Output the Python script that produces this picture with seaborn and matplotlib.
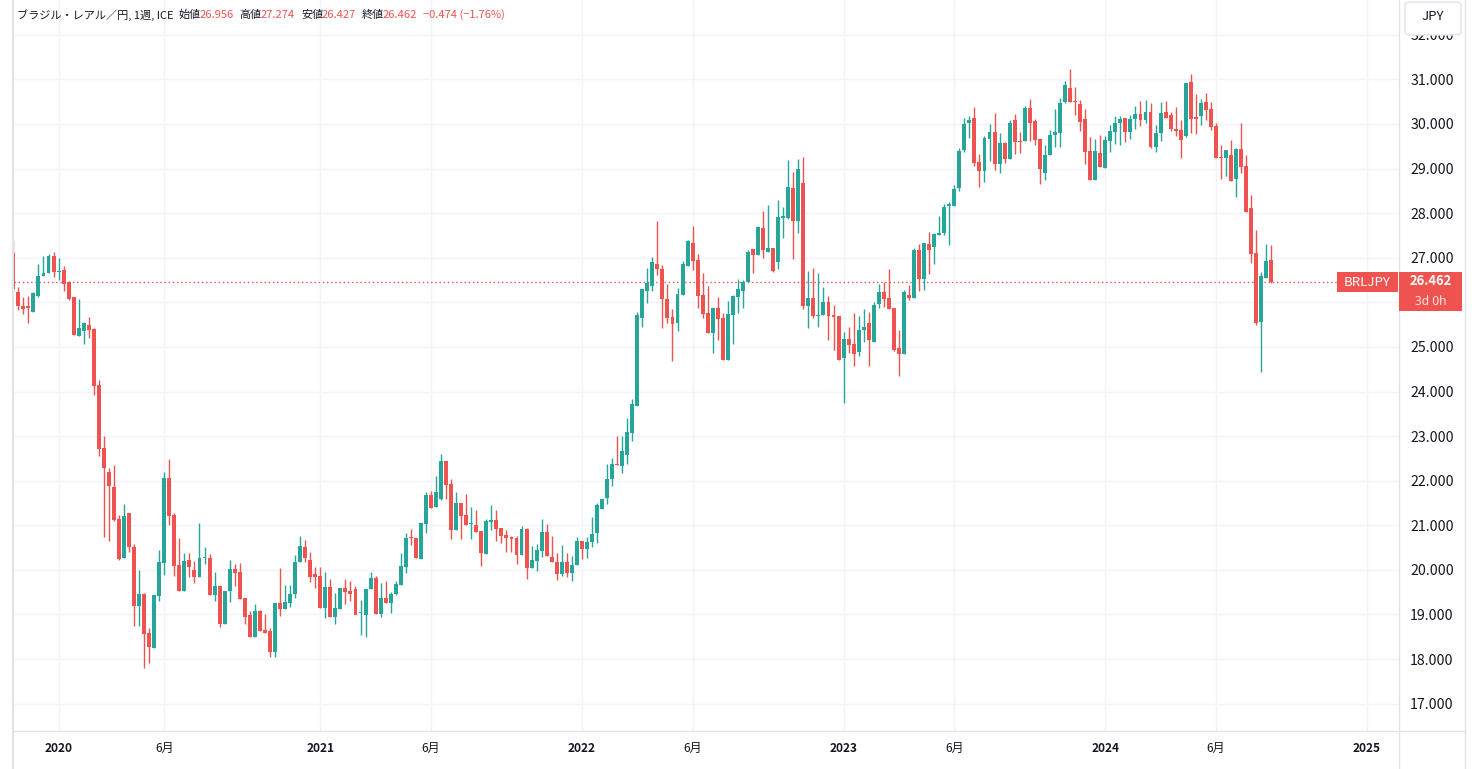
import matplotlib
matplotlib.use("Agg")
import matplotlib.pyplot as plt
import seaborn as sns
import numpy as np
from matplotlib.patches import Rectangle, FancyBboxPatch
from matplotlib.lines import Line2D

# ---------------- data (weekly BRL/JPY candles) ----------------
opens = [27.10, 26.23, 25.91, 25.91, 25.79, 26.15, 26.60, 26.65, 27.04, 26.68,
         26.72, 26.45, 26.11, 25.25, 25.36, 25.49, 25.40, 24.15, 22.73, 22.20,
         21.86, 21.14, 20.26, 21.27, 20.51, 19.19, 19.46, 18.59, 18.26, 19.42,
         20.16, 22.06, 21.23, 20.11, 19.53, 20.22, 20.00, 19.85, 20.27, 20.27,
         19.44, 19.64, 18.79, 19.53, 20.02, 19.95, 19.37, 18.99, 18.50, 19.07,
         18.65, 18.63, 18.15, 19.26, 19.13, 19.26, 19.45, 20.17, 20.52, 20.22,
         19.91, 19.86, 19.15, 19.62, 18.95, 19.13, 19.59, 19.53, 19.57, 19.03,
         19.00, 19.57, 19.82, 19.02, 19.37, 19.26, 19.46, 19.66, 20.07, 20.74,
         20.72, 20.25, 21.04, 21.68, 21.42, 21.59, 22.44, 21.93, 20.90, 21.50,
         21.23, 21.03, 21.01, 20.87, 20.36, 21.07, 21.12, 20.94, 20.78, 20.74,
         20.72, 20.34, 20.92, 20.05, 20.21, 20.43, 20.85, 20.29, 20.18, 19.91,
         20.18, 19.94, 20.12, 20.65, 20.47, 20.62, 20.83, 21.36, 21.61, 22.04,
         22.37, 22.34, 22.58, 23.08, 23.68, 25.65, 26.25, 26.37, 26.86, 26.75,
         26.08, 25.67, 25.54, 26.17, 26.82, 27.33, 26.95, 26.16, 25.77, 25.32,
         25.88, 25.65, 24.71, 25.72, 26.13, 26.26, 26.46, 27.19, 27.06, 27.67,
         27.13, 27.22, 26.91, 27.90, 27.89, 28.57, 27.83, 28.67, 25.92, 26.10,
         25.70, 25.72, 26.01, 25.72, 25.70, 24.76, 25.18, 25.07, 24.89, 25.39,
         25.54, 25.12, 25.97, 26.22, 26.10, 25.88, 24.98, 24.85, 26.16, 26.10,
         27.17, 26.53, 27.31, 27.24, 27.52, 27.56, 28.17, 28.17, 28.56, 29.41,
         30.03, 30.13, 29.15, 28.95, 29.67, 29.82, 29.11, 29.57, 29.22, 30.09,
         29.62, 29.62, 30.36, 30.06, 29.66, 28.91, 29.30, 29.74, 29.80, 30.49,
         30.80, 30.51, 30.45, 30.11, 29.39, 28.75, 29.35, 29.01, 29.62, 29.82,
         30.02, 30.13, 29.82, 30.11, 30.22, 30.09, 30.27, 29.48, 29.80, 30.27,
         30.20, 29.89, 29.86, 29.73, 30.94, 30.15, 30.18, 30.49, 30.33, 29.95,
         29.26, 29.24, 29.30, 28.77, 29.44, 29.06, 28.12, 27.10, 25.56, 26.55,
         26.956]
highs = [27.37, 26.34, 26.11, 26.14, 26.24, 26.86, 27.04, 27.08, 27.13, 26.99,
         26.81, 26.48, 26.13, 26.07, 25.56, 25.66, 25.43, 24.26, 23.00, 22.28,
         22.35, 21.23, 21.47, 21.27, 20.58, 20.00, 19.49, 18.69, 19.44, 20.45,
         22.19, 22.49, 21.28, 20.71, 20.38, 20.38, 20.20, 21.05, 20.51, 20.36,
         19.96, 19.64, 19.53, 20.22, 20.13, 20.16, 19.37, 19.07, 19.23, 19.10,
         19.00, 18.70, 19.26, 20.05, 19.66, 19.66, 20.33, 20.76, 20.67, 20.40,
         20.06, 20.06, 19.95, 19.80, 19.49, 19.59, 19.80, 19.75, 19.65, 19.33,
         19.57, 19.95, 19.87, 19.71, 19.75, 19.51, 19.75, 20.39, 20.83, 20.91,
         20.72, 21.06, 21.75, 21.77, 22.11, 22.60, 22.44, 22.03, 21.75, 21.50,
         21.70, 21.41, 21.34, 20.87, 21.14, 21.45, 21.34, 20.94, 20.90, 20.76,
         20.76, 20.99, 20.95, 20.54, 20.58, 21.14, 21.03, 20.76, 20.39, 20.56,
         20.39, 20.32, 20.74, 20.65, 20.74, 21.18, 21.50, 21.59, 22.37, 22.51,
         23.00, 23.00, 23.40, 23.83, 25.79, 26.30, 26.77, 27.01, 27.82, 26.84,
         26.42, 25.85, 26.32, 26.93, 27.40, 27.71, 27.08, 26.66, 26.37, 25.88,
         26.13, 25.77, 26.04, 26.17, 26.53, 26.50, 27.17, 27.19, 27.71, 28.05,
         28.18, 27.22, 28.30, 28.14, 29.19, 28.93, 29.21, 29.25, 26.71, 26.78,
         26.66, 26.35, 26.15, 25.95, 25.70, 25.34, 25.45, 25.77, 25.70, 25.86,
         25.79, 26.01, 26.42, 26.46, 26.75, 25.88, 25.37, 26.28, 26.39, 27.22,
         27.31, 27.33, 27.58, 27.56, 27.93, 28.21, 28.26, 28.63, 29.46, 30.13,
         30.18, 30.38, 29.33, 29.73, 30.00, 30.24, 29.80, 29.59, 30.09, 30.22,
         29.82, 30.40, 30.56, 30.10, 29.66, 29.52, 29.86, 30.33, 30.58, 30.96,
         31.23, 30.83, 30.53, 30.33, 29.71, 29.66, 29.75, 29.73, 29.97, 30.18,
         30.18, 30.13, 30.20, 30.40, 30.51, 30.53, 30.47, 29.97, 30.49, 30.51,
         30.27, 30.38, 30.09, 30.92, 31.12, 30.67, 30.56, 30.69, 30.49, 30.02,
         29.53, 29.42, 29.64, 29.46, 30.02, 29.30, 28.41, 27.62, 26.69, 27.31,
         27.274]
lows = [26.22, 25.83, 25.74, 25.54, 25.78, 26.13, 26.60, 26.65, 26.57, 26.50,
        26.25, 26.05, 25.27, 25.25, 25.06, 25.21, 23.92, 22.55, 20.74, 20.65,
        21.10, 20.22, 20.26, 20.41, 18.75, 18.74, 17.79, 17.92, 18.26, 19.31,
        19.89, 21.01, 19.86, 19.53, 19.53, 19.85, 19.71, 19.85, 20.14, 19.44,
        19.31, 18.73, 18.79, 19.27, 19.64, 19.35, 18.79, 18.50, 18.50, 18.64,
        18.59, 18.05, 18.05, 18.97, 19.13, 19.17, 19.38, 20.17, 20.18, 19.73,
        19.60, 19.15, 18.93, 18.95, 18.79, 19.13, 19.24, 19.31, 19.00, 18.55,
        18.50, 19.57, 19.02, 18.95, 19.26, 19.04, 19.44, 19.66, 19.93, 20.56,
        20.27, 20.25, 20.83, 21.39, 21.42, 21.57, 21.59, 20.69, 20.90, 20.69,
        21.01, 20.69, 20.85, 20.08, 20.36, 20.90, 20.65, 20.60, 20.40, 20.40,
        20.13, 20.34, 19.80, 20.05, 19.98, 20.30, 20.32, 20.18, 19.78, 19.87,
        19.85, 19.76, 20.12, 20.25, 20.27, 20.52, 20.61, 21.36, 21.48, 21.89,
        22.35, 22.18, 22.37, 22.90, 23.68, 25.45, 25.98, 26.26, 26.62, 25.43,
        25.54, 24.69, 25.36, 26.17, 26.82, 26.72, 25.88, 25.65, 25.32, 24.87,
        25.16, 24.71, 24.71, 25.07, 25.77, 25.88, 26.46, 26.66, 27.06, 27.00,
        27.13, 26.67, 26.75, 27.44, 27.87, 26.98, 27.55, 25.86, 25.43, 25.65,
        25.45, 25.72, 25.16, 24.94, 24.71, 23.75, 24.87, 24.58, 24.80, 25.12,
        24.58, 25.12, 25.88, 25.90, 25.86, 24.91, 24.35, 24.85, 26.05, 26.10,
        26.26, 26.28, 26.64, 26.86, 27.52, 27.52, 27.29, 28.17, 28.50, 29.37,
        29.69, 29.06, 28.59, 28.70, 29.17, 28.97, 28.91, 29.13, 29.22, 29.33,
        29.35, 29.62, 29.62, 29.52, 28.66, 28.75, 29.30, 29.48, 29.48, 30.46,
        30.49, 30.20, 29.84, 29.10, 28.75, 28.75, 29.04, 29.01, 29.37, 29.56,
        29.53, 29.59, 29.66, 29.88, 29.95, 30.03, 29.46, 29.37, 29.62, 30.13,
        29.84, 29.73, 29.24, 29.71, 29.80, 29.78, 29.98, 30.09, 29.86, 29.24,
        28.76, 28.83, 28.73, 28.37, 28.91, 28.03, 26.87, 25.50, 24.44, 26.55,
        26.427]
closes = [26.30, 25.91, 25.86, 25.88, 26.21, 26.59, 26.66, 27.04, 26.69, 26.70,
          26.42, 26.08, 25.27, 25.42, 25.53, 25.37, 24.13, 22.72, 22.29, 21.87,
          21.13, 20.24, 21.20, 20.51, 19.20, 19.46, 18.57, 18.28, 19.44, 20.18,
          22.06, 21.21, 20.09, 19.53, 20.20, 20.07, 19.83, 20.27, 20.28, 19.44,
          19.64, 18.79, 19.53, 20.02, 19.94, 19.35, 18.95, 18.50, 19.07, 18.64,
          18.59, 18.15, 19.26, 19.13, 19.28, 19.46, 20.18, 20.54, 20.27, 19.83,
          19.85, 19.15, 19.62, 18.95, 19.15, 19.59, 19.51, 19.47, 19.00, 19.05,
          19.57, 19.82, 19.02, 19.37, 19.26, 19.46, 19.68, 20.09, 20.72, 20.72,
          20.27, 21.06, 21.68, 21.39, 21.75, 22.44, 21.91, 20.90, 21.50, 21.21,
          21.01, 21.05, 20.85, 20.38, 21.10, 21.12, 20.92, 20.76, 20.72, 20.70,
          20.34, 20.92, 20.05, 20.22, 20.45, 20.85, 20.32, 20.18, 19.91, 20.18,
          19.94, 20.12, 20.65, 20.47, 20.62, 20.80, 21.46, 21.59, 22.04, 22.37,
          22.35, 22.67, 23.09, 23.72, 25.71, 26.30, 26.43, 26.90, 26.75, 26.08,
          25.65, 25.52, 26.19, 26.86, 27.37, 26.93, 26.15, 25.74, 25.32, 25.88,
          25.63, 24.71, 25.74, 26.15, 26.30, 26.45, 27.13, 27.06, 27.69, 27.18,
          27.22, 26.71, 27.91, 27.91, 28.59, 27.82, 29.00, 25.92, 26.10, 25.70,
          25.72, 26.01, 25.70, 25.68, 24.71, 25.18, 25.05, 24.85, 25.39, 25.45,
          25.16, 25.95, 26.22, 26.08, 25.86, 24.94, 24.85, 26.22, 26.10, 27.17,
          26.53, 27.33, 27.18, 27.53, 27.56, 28.14, 28.20, 28.54, 29.39, 30.00,
          30.09, 29.12, 28.95, 29.68, 29.82, 29.11, 29.57, 29.22, 30.02, 29.60,
          29.59, 30.36, 30.03, 29.63, 28.98, 29.30, 29.75, 29.82, 30.47, 30.87,
          30.49, 30.49, 30.04, 29.37, 28.75, 29.39, 29.04, 29.64, 29.84, 30.02,
          30.11, 29.82, 30.11, 30.22, 30.09, 30.27, 29.48, 29.80, 30.24, 30.13,
          29.89, 29.85, 29.64, 30.92, 30.11, 30.11, 30.47, 30.31, 29.93, 29.24,
          29.24, 29.42, 28.73, 29.44, 29.04, 28.03, 27.09, 25.54, 26.59, 26.93,
          26.462]

tick_pos = [9, 30, 61, 83, 113, 135, 165, 187, 217, 239, 269]
tick_labels = ['2020', '6月', '2021', '6月', '2022', '6月', '2023', '6月', '2024', '6月', '2025']
price_ticks = list(range(17, 33))
last_price = closes[-1]
title_parts = [("ブラジル・レアル／円, 1週, ICE", "dark"), ("始値", "dark"), ("26.956", "red"),
               ("高値", "dark"), ("27.274", "red"), ("安値", "dark"), ("26.427", "red"),
               ("終値", "dark"), ("26.462", "red"), ("−0.474 (−1.76%)", "red")]

# ---------------- styling ----------------
sns.set_theme(style="white")
plt.rcParams['font.family'] = ['Noto Sans CJK JP', 'DejaVu Sans']

GREEN = '#26a69a'
RED = '#ef5350'
DARK = '#131722'
GRID = '#f0f3fa'
BORDER = '#e0e3eb'

W, H = 1479, 769
fig = plt.figure(figsize=(W / 100, H / 100), dpi=100)
fig.patch.set_facecolor('white')

def fx(x):
    return x / W

def fy(y):
    return 1 - y / H

ax_l, ax_r, ax_t, ax_b = 14, 1399, 0, 731
ax = fig.add_axes([fx(ax_l), fy(ax_b), (ax_r - ax_l) / W, (ax_b - ax_t) / H])
ax.set_facecolor('white')

o = np.array(opens); h = np.array(highs); l = np.array(lows); c = np.array(closes)
x = np.arange(len(o))
up = c >= o
cols = np.where(up, GREEN, RED)
bottom = np.minimum(o, c)
height = np.maximum(np.abs(c - o), 0.025)

ax.vlines(x, l, h, colors=cols, linewidth=1.0, zorder=3)
ax.bar(x, height, bottom=bottom, width=0.78, color=cols, linewidth=0, zorder=4)

# scale
ax.set_ylim(31 - (ax_b - 79.3) / 44.6, 31 + 79.3 / 44.6)
ax.set_xlim((ax_l - 13.3) / 5.032, (ax_r - 13.3) / 5.032)

ax.set_yticks(price_ticks)
# the 26.000 label is hidden behind the last-price box in the original
ax.set_yticklabels(["" if p == 26 else f"{p:.3f}" for p in price_ticks])
ax.yaxis.tick_right()
ax.tick_params(axis='y', length=0, pad=8, labelsize=10.2, labelcolor=DARK)
ax.set_xticks(tick_pos)
ax.set_xticklabels(tick_labels)
ax.tick_params(axis='x', length=0, pad=8, labelsize=8.6, labelcolor=DARK)
for lab in ax.get_xticklabels():
    if lab.get_text().isdigit():
        lab.set_fontweight('bold')
ax.grid(True, color=GRID, linewidth=1, zorder=0)
ax.set_axisbelow(True)
for s in ax.spines.values():
    s.set_visible(False)

# last price dotted line
ax.plot([ax.get_xlim()[0], (1337 - 13.3) / 5.032], [last_price, last_price],
        color=RED, linewidth=1, linestyle=(0, (1, 2)), zorder=2)

# frame lines
fig.add_artist(Line2D([fx(1399), fx(1399)], [fy(0), fy(769)], color=BORDER, linewidth=1))
fig.add_artist(Line2D([fx(ax_l - 1), fx(1465)], [fy(731), fy(731)], color=BORDER, linewidth=1))
fig.add_artist(Line2D([fx(ax_l - 1), fx(ax_l - 1)], [fy(0), fy(769)], color=BORDER, linewidth=1.5))
fig.add_artist(Line2D([fx(1465), fx(1465)], [fy(0), fy(769)], color=BORDER, linewidth=1))

# JPY button
fig.add_artist(FancyBboxPatch((fx(1405), fy(35)), (1461 - 1405) / W, 33 / H,
                              boxstyle="round,pad=0,rounding_size=0.004",
                              facecolor='white', edgecolor=BORDER, linewidth=1,
                              transform=fig.transFigure, zorder=5))
fig.text(fx(1433), fy(17), "JPY", ha='center', va='center', fontsize=9.5, color=DARK, zorder=6)

# price labels
fig.add_artist(Rectangle((fx(1337), fy(292)), (1398 - 1337) / W, 20 / H,
                         facecolor=RED, edgecolor='none', transform=fig.transFigure, zorder=5))
fig.text(fx(1367.5), fy(282), "BRLJPY", ha='center', va='center', fontsize=9.5,
         color='white', zorder=6)
fig.add_artist(Rectangle((fx(1399), fy(311)), (1462 - 1399) / W, 39 / H,
                         facecolor=RED, edgecolor='none', transform=fig.transFigure, zorder=5))
fig.text(fx(1430.5), fy(281.5), f"{last_price:.3f}", ha='center', va='center', fontsize=9.4,
         fontweight='bold', color='white', zorder=6)
fig.text(fx(1430.5), fy(301.5), "3d 0h", ha='center', va='center', fontsize=8.6,
         color='#fde4e4', zorder=6, family=['Noto Sans', 'DejaVu Sans'])

# header
xs = [17, 179, 200, 239, 261, 301, 322, 362, 383, 423]
for (txt, kind), xp in zip(title_parts, xs):
    fig.text(fx(xp), fy(15), txt, ha='left', va='center', fontsize=8.0,
             color=(RED if kind == 'red' else DARK), zorder=6)

fig.savefig("out.png", dpi=100, facecolor='white')
